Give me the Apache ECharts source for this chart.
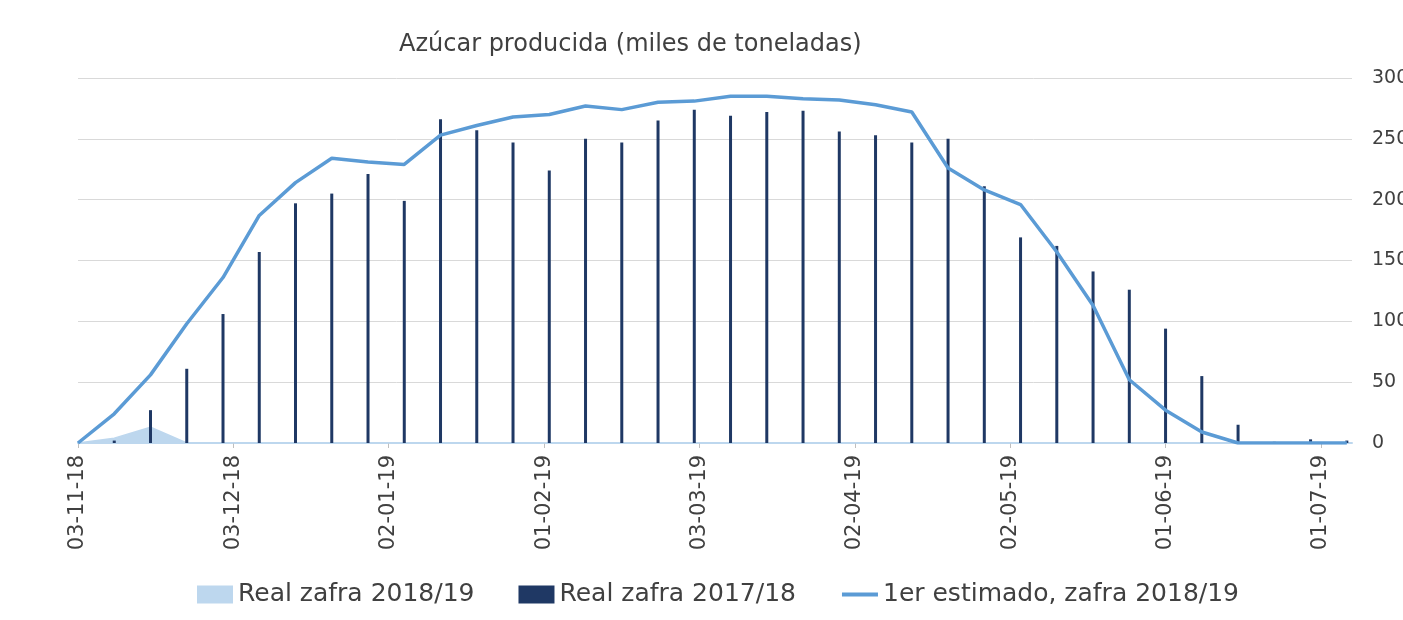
<!DOCTYPE html>
<html>
<head>
<meta charset="utf-8">
<script src="https://cdn.jsdelivr.net/npm/echarts@6/dist/echarts.min.js"></script>
<style>
  html, body { margin: 0; padding: 0; background: #fff; }
  #chart { width: 1403px; height: 620px; }
</style>
</head>
<body>
<div id="chart"></div>
<script>
// Semanas de la zafra (sábados)
const fechas = [
  "2018-11-03", "2018-11-10", "2018-11-17", "2018-11-24",
  "2018-12-01", "2018-12-08", "2018-12-15", "2018-12-22", "2018-12-29",
  "2019-01-05", "2019-01-12", "2019-01-19", "2019-01-26",
  "2019-02-02", "2019-02-09", "2019-02-16", "2019-02-23",
  "2019-03-02", "2019-03-09", "2019-03-16", "2019-03-23", "2019-03-30",
  "2019-04-06", "2019-04-13", "2019-04-20", "2019-04-27",
  "2019-05-04", "2019-05-11", "2019-05-18", "2019-05-25",
  "2019-06-01", "2019-06-08", "2019-06-15", "2019-06-22", "2019-06-29",
  "2019-07-06"
];

// miles de toneladas
const realZafra1819 = [0, 4, 13, 0, 0, 0, 0, 0, 0, 0, 0, 0, 0, 0, 0, 0, 0, 0,
  0, 0, 0, 0, 0, 0, 0, 0, 0, 0, 0, 0, 0, 0, 0, 0, 0, 0];
const realZafra1718 = [0, 2, 27, 61, 106, 157, 197, 205, 221, 199, 266, 257,
  247, 224, 250, 247, 265, 274, 269, 272, 273, 256, 253, 247, 250, 211, 169,
  162, 141, 126, 94, 55, 15, 1, 3, 2];
const estimado1819 = [0, 24, 56, 98, 136, 187, 214, 234, 231, 229, 253, 261,
  268, 270, 277, 274, 280, 281, 285, 285, 283, 282, 278, 272, 226, 208, 196,
  157, 113, 52, 27, 9, 0, 0, 0, 0];

// etiquetas del eje x: cada 30 días desde el inicio
const diasEtiqueta = [0, 30, 60, 90, 120, 150, 180, 210, 240];
const ticksY = [0, 50, 100, 150, 200, 250, 300];

const DIA = 86400000;
const inicio = Date.parse(fechas[0] + "T00:00:00Z");
const dias = fechas.map(f => Math.round((Date.parse(f + "T00:00:00Z") - inicio) / DIA));
const pares = vals => vals.map((v, i) => [dias[i], v]);

function fmtFecha(d) {
  const t = new Date(inicio + d * DIA);
  const dd = String(t.getUTCDate()).padStart(2, "0");
  const mm = String(t.getUTCMonth() + 1).padStart(2, "0");
  const yy = String(t.getUTCFullYear()).slice(2);
  return `${dd}-${mm}-${yy}`;
}

const FONT = "DejaVu Sans";
const TXT = "#404040";

const chart = echarts.init(document.getElementById("chart"));
chart.setOption({
  animation: false,
  backgroundColor: "#fff",
  textStyle: { fontFamily: FONT },
  title: {
    text: "Azúcar producida (miles de toneladas)",
    left: 394,
    top: 28,
    textStyle: { fontFamily: FONT, fontSize: 24, fontWeight: "normal", color: TXT }
  },
  legend: {
    left: 192,
    top: 577,
    itemWidth: 36,
    itemHeight: 18,
    itemGap: 44,
    textStyle: { fontFamily: FONT, fontSize: 25, color: TXT },
    data: [
      { name: "Real zafra 2018/19", icon: "rect" },
      { name: "Real zafra 2017/18", icon: "rect" },
      {
        name: "1er estimado, zafra 2018/19",
        itemStyle: { color: "rgba(0,0,0,0)", borderWidth: 0, opacity: 0 },
        lineStyle: { width: 4 }
      }
    ]
  },
  grid: { left: 78, right: 51, top: 78, bottom: 177, outerBoundsMode: "none" },
  xAxis: {
    type: "value",
    min: 0,
    max: 246,
    interval: 30,
    axisLine: { show: true, lineStyle: { color: "#BDD7EE", width: 2 } },
    axisTick: {
      show: true, length: 5, customValues: diasEtiqueta,
      lineStyle: { color: "#BFBFBF" }
    },
    splitLine: { show: false },
    axisLabel: {
      customValues: diasEtiqueta,
      rotate: 90,
      margin: 12,
      fontFamily: FONT,
      fontSize: 21,
      color: TXT,
      formatter: v => fmtFecha(v)
    }
  },
  yAxis: {
    type: "value",
    position: "right",
    min: ticksY[0],
    max: ticksY[ticksY.length - 1],
    interval: 50,
    axisLine: { show: false },
    axisTick: { show: false },
    splitLine: { lineStyle: { color: "#D9D9D9", width: 1 } },
    axisLabel: { margin: 20, fontFamily: FONT, fontSize: 19, color: TXT }
  },
  series: [
    {
      name: "Real zafra 2018/19",
      type: "line",
      data: pares(realZafra1819),
      symbol: "none",
      z: 1,
      itemStyle: { color: "#BDD7EE" },
      lineStyle: { color: "#BDD7EE", width: 1.5 },
      areaStyle: { color: "#BDD7EE", opacity: 1 }
    },
    {
      name: "Real zafra 2017/18",
      type: "bar",
      data: pares(realZafra1718),
      barWidth: 3,
      z: 2,
      itemStyle: { color: "#1F3864" }
    },
    {
      name: "1er estimado, zafra 2018/19",
      type: "line",
      data: pares(estimado1819),
      symbol: "none",
      z: 3,
      itemStyle: { color: "#5B9BD5" },
      lineStyle: { color: "#5B9BD5", width: 3.5 }
    }
  ]
});
</script>
</body>
</html>
